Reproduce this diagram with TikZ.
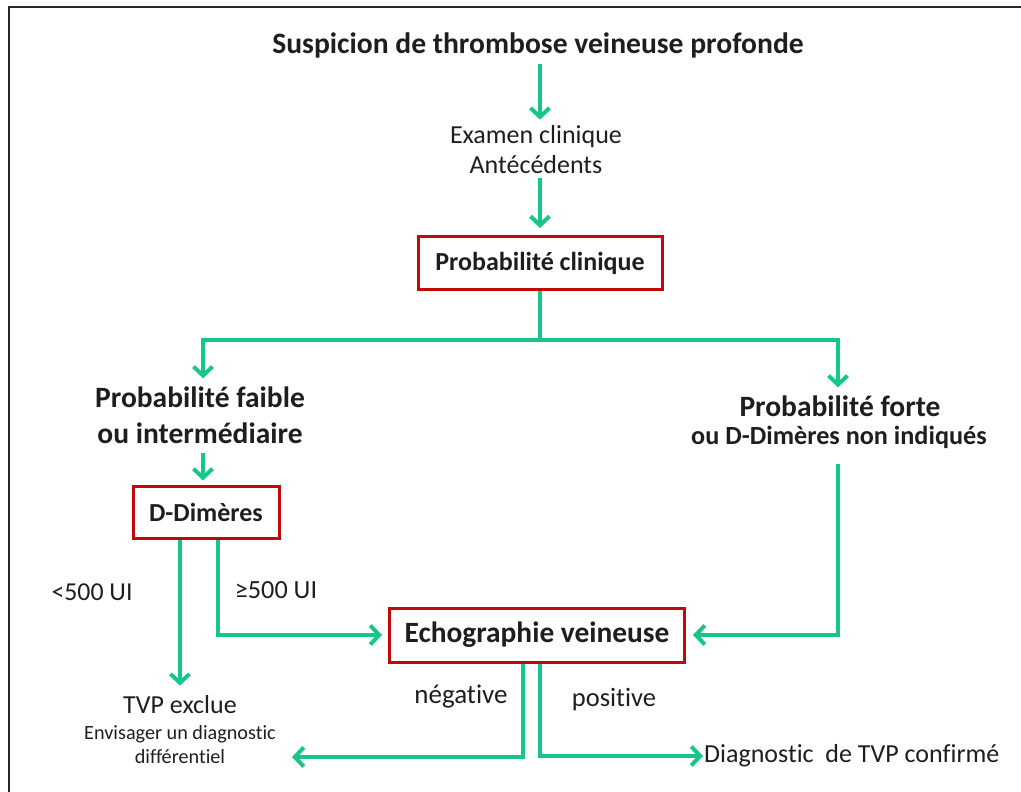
\documentclass[tikz,border=0pt]{standalone}
\usepackage{fontspec}
\setmainfont{Carlito}[Ligatures=NoCommon]
\usetikzlibrary{arrows.meta,calc}
\definecolor{grn}{RGB}{24,198,140}
\definecolor{redb}{RGB}{192,10,10}
\definecolor{txt}{RGB}{30,30,30}
\tikzset{
  arr/.style={draw=grn, line width=4pt, -{Straight Barb[length=9pt,width=19pt]}},
  ln/.style={draw=grn, line width=4pt},
  redbox/.style={draw=redb, line width=3pt, fill=white, inner sep=0pt, text=txt},
  lbl/.style={text=txt, inner sep=0pt, align=center},
}
\begin{document}
\begin{tikzpicture}[x=1pt,y=-1pt]
\useasboundingbox (0,0) rectangle (1021,792);
\draw[line width=1.5pt, black!85] (9,792) -- (9,7) -- (1021,7);
% nodes
\node[lbl, font=\fontsize{29.6}{32}\selectfont\bfseries] (title) at (538,45) {Suspicion de thrombose veineuse profonde};
\node[lbl, font=\fontsize{26}{30}\selectfont] (exam) at (536,150) {Examen clinique\\Antécédents};
\node[redbox, minimum width=244pt, minimum height=53pt, font=\fontsize{26}{28}\selectfont\bfseries] (pc) at (540,263) {Probabilité clinique};
\node[lbl, font=\fontsize{29.5}{36}\selectfont\bfseries] (faible) at (200,415) {Probabilité faible\\ou intermédiaire};
\node[lbl, font=\fontsize{29.5}{31}\selectfont\bfseries] (forte) at (840,406) {Probabilité forte};
\node[lbl, font=\fontsize{26.2}{31}\selectfont\bfseries] (forte2) at (839,437) {ou D-Dimères non indiqués};
\node[redbox, minimum width=146pt, minimum height=52pt, font=\fontsize{26}{28}\selectfont\bfseries] (dd) at (206,512) {D-Dimères};
\node[redbox, minimum width=295pt, minimum height=54pt, font=\fontsize{29.4}{32}\selectfont\bfseries] (echo) at (537,635) {Echographie veineuse};
\node[lbl, font=\fontsize{25.8}{28}\selectfont] (lt) at (92,592) {<500 UI};
\node[lbl, font=\fontsize{26.2}{28}\selectfont] (ge) at (276,590) {≥500 UI};
\node[lbl, font=\fontsize{26}{28}\selectfont] (tvp) at (180,705) {TVP exclue};
\node[lbl, font=\fontsize{20.2}{24}\selectfont] (diff) at (180,745) {Envisager un diagnostic\\différentiel};
\node[lbl, font=\fontsize{27}{28}\selectfont] (neg) at (461,697) {négative};
\node[lbl, font=\fontsize{26.5}{28}\selectfont] (pos) at (614,700) {positive};
\node[lbl, font=\fontsize{26}{28}\selectfont, anchor=west] (conf) at (704,756) {Diagnostic\ \ de TVP confirmé};
% coordinates
\coordinate (split) at (540,340);
\coordinate (negend) at (292,757);
% connectors
\draw[arr, shorten <=6pt, shorten >=6pt] (title.south -| pc) -- (exam.north -| pc);
\draw[arr, shorten <=4pt, shorten >=7pt] (exam.south -| pc) -- (pc.north);
\draw[ln] (pc.south) -- (split);
\draw[arr, shorten >=8pt] (split) -| ([xshift=3pt]faible.north);
\draw[arr, shorten >=8pt] (split) -| ([xshift=-2pt]forte.north);
\draw[arr, shorten <=9pt, shorten >=4pt] ([xshift=3pt]faible.south) -- ([xshift=-3pt]dd.north);
\draw[arr, shorten >=10pt] ([xshift=-26pt]dd.south) -- (tvp.north);
\draw[arr, shorten >=6pt] ([xshift=12pt]dd.south) |- (echo.west);
\draw[arr, shorten <=16pt, shorten >=7pt] ([xshift=-1pt]forte2.south) |- (echo.east);
\draw[arr] ([xshift=-14pt]echo.south) |- (negend);
\draw[arr, shorten >=1pt] ([xshift=3pt]echo.south) |- (conf.west);
\end{tikzpicture}
\end{document}
